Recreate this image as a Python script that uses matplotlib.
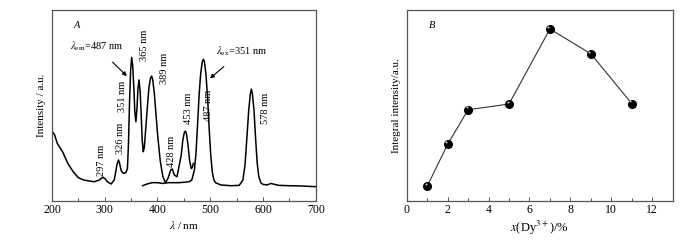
import numpy as np
import matplotlib
matplotlib.use("Agg")
import matplotlib.pyplot as plt

# excitation spectrum (monitored at 487 nm)
ex_wl = [200, 205, 210, 220, 230, 240, 250, 260, 270, 280, 290, 294, 297, 301, 305, 312, 318,
         320, 323, 326, 328, 331, 335, 340, 343, 345, 347, 349, 351, 353, 355, 357, 359,
         361, 363, 365, 367, 369, 371, 373, 375, 378, 381, 384, 387, 389, 391, 394, 397,
         400, 405, 410, 415, 420, 425, 428, 432, 437, 442, 445, 448, 451, 453, 455, 458,
         461, 464, 466, 468]
ex_int = [36.6, 34.6, 30.2, 25.8, 19.7, 15.4, 12.2, 11.0, 10.5, 10.1, 11.0, 12.0, 12.4, 11.5, 10.1, 8.9, 11.0,
          14.0, 18.8, 21.5, 20.0, 16.0, 14.5, 14.8, 17.0, 30.0, 52.0, 68.0, 75.2, 71.0, 60.0, 47.0, 41.5,
          48.0, 59.0, 63.4, 58.0, 46.0, 32.0, 25.8, 28.0, 38.9, 50.0, 59.9, 64.5, 65.4, 63.5, 56.4, 46.0,
          35.4, 21.5, 13.0, 9.6, 11.9, 16.2, 16.8, 13.6, 12.7, 19.7, 24.0, 31.9, 36.0, 36.6, 35.0, 29.0,
          21.0, 17.0, 17.5, 19.7]

# emission spectrum (excited at 351 nm)
em_wl = [372, 380, 390, 400, 410, 420, 430, 440, 450, 460, 465, 470, 473, 476, 479,
         482, 485, 487, 489, 492, 495, 498, 501, 504, 507, 510, 520, 530, 540, 555,
         562, 566, 570, 573, 576, 578, 580, 583, 586, 589, 592, 596, 600, 608, 615,
         622, 630, 650, 670, 700]
em_int = [8.0, 8.9, 9.6, 9.6, 9.2, 9.6, 9.6, 9.6, 9.8, 10.1, 11.0, 16.2, 25.0, 40.0, 56.0,
          67.0, 73.0, 74.2, 73.0, 66.0, 54.0, 38.0, 24.0, 15.0, 11.0, 9.6, 8.4, 8.2, 8.0, 8.2,
          11.0, 19.0, 35.0, 47.6, 56.0, 58.6, 56.0, 47.6, 33.0, 20.0, 13.0, 9.5, 8.7, 8.4, 9.2,
          8.7, 8.2, 8.0, 7.9, 7.5]

# peak labels
peak_text = ["297 nm", "326 nm", "351 nm", "365 nm", "389 nm", "428 nm", "453 nm", "487 nm", "578 nm"]
peak_x = [294.5, 329, 334, 374.5, 413, 427, 458.5, 496, 605]
peak_y = [21.5, 32.8, 54.6, 81.7, 69.5, 25.8, 48.5, 50.3, 48.5]

# integral intensity vs Dy3+ content
dy_conc = [1, 2, 3, 5, 7, 9, 11]
integ = [7.7, 29.7, 47.8, 50.8, 90.1, 77.1, 51.0]

plt.rcParams['font.family'] = ['Liberation Serif', 'DejaVu Serif']
plt.rcParams['mathtext.fontset'] = 'stix'
plt.rcParams['font.size'] = 7.5

fig = plt.figure(figsize=(7, 2.4), dpi=100)
axA = fig.add_axes([0.0743, 0.1625, 0.3767, 0.7955])
axB = fig.add_axes([0.581, 0.1625, 0.380, 0.7955])

spine_col = '#555555'
for ax in (axA, axB):
    for s in ax.spines.values():
        s.set_color(spine_col)
        s.set_linewidth(0.9)
    ax.tick_params(direction='in', which='both', length=3, width=0.7, color=spine_col,
                   left=False, labelleft=False, labelsize=8.5, pad=2)
    ax.tick_params(which='minor', length=2)

# panel A
axA.plot(ex_wl, ex_int, color='black', lw=1.1)
axA.plot(em_wl, em_int, color='black', lw=1.1)
axA.set_xlim(200, 700)
axA.set_ylim(0, 100)
axA.set_xticks(np.arange(200, 701, 100))
axA.set_xticks(np.arange(250, 700, 100), minor=True)
for t, x, y in zip(peak_text, peak_x, peak_y):
    axA.text(x, y, t, rotation=90, ha='center', va='center', fontsize=7.5)
axA.text(247, 92, 'A', style='italic', ha='center', va='center', fontsize=7.5)
axA.annotate(r'$\lambda_{\rm em}$=487 nm', xy=(342, 65.4), xytext=(285, 80.8),
             ha='center', va='center', fontsize=7.5,
             arrowprops=dict(arrowstyle='-|>', color='black', lw=0.8,
                             shrinkA=6, shrinkB=0, mutation_scale=6))
axA.annotate(r'$\lambda_{\rm ex}$=351 nm', xy=(499.5, 64.2), xytext=(559, 78.2),
             ha='center', va='center', fontsize=7.5,
             arrowprops=dict(arrowstyle='-|>', color='black', lw=0.8,
                             shrinkA=6, shrinkB=0, mutation_scale=6))
axA.set_xlabel(r'$\lambda$ / nm', labelpad=2, fontsize=8)
axA.set_ylabel('Intensity / a.u.', labelpad=4, fontsize=8)

# panel B
axB.plot(dy_conc, integ, color='#333333', lw=0.8, zorder=2)
axB.plot(dy_conc, integ, 'o', color='black', ms=5.5, mec='black', zorder=3)
axB.plot(np.array(dy_conc) - 0.07, np.array(integ) + 1.2, 'o', color='#cccccc',
         ms=1.5, mec='none', zorder=4)
axB.set_xlim(0, 13)
axB.set_ylim(0, 100)
axB.set_xticks(np.arange(0, 13, 2))
axB.set_xticks(np.arange(1, 13, 2), minor=True)
axB.text(1.22, 92, 'B', style='italic', ha='center', va='center', fontsize=7.5)
axB.set_xlabel(r'$x$(Dy$^{3+}$)/%', labelpad=2, fontsize=9)
axB.set_ylabel('Integral intensity/a.u.', labelpad=4, fontsize=8)

fig.savefig('out.png', dpi=100)
